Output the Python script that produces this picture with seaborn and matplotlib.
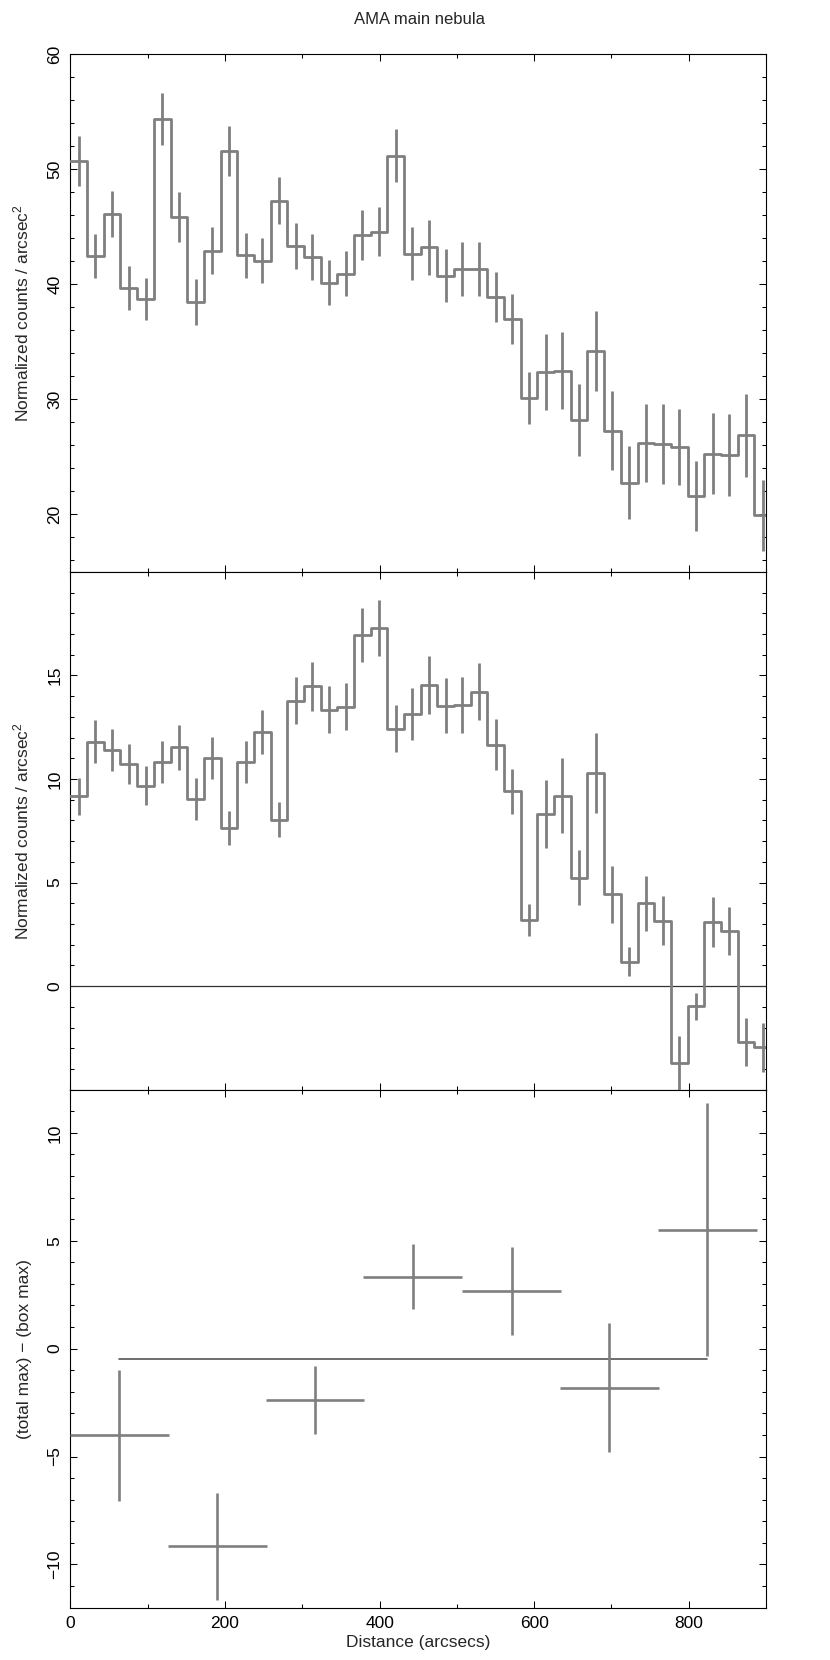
import numpy as np
import matplotlib
matplotlib.use("Agg")
import matplotlib.pyplot as plt
from matplotlib.ticker import MultipleLocator, FixedLocator
import seaborn as sns

# ---------------- data ----------------
BIN_WIDTH = 21.58  # arcsec, width of the fine radial bins

total_counts = [50.68, 42.44, 46.07, 39.65, 38.69, 54.37, 45.83, 38.48, 42.92, 51.58,
                42.50, 42.05, 47.26, 43.31, 42.35, 40.13, 40.91, 44.27, 44.54, 51.16,
                42.65, 43.19, 40.73, 41.33, 41.33, 38.87, 36.96, 30.09, 32.40, 32.49,
                28.20, 34.20, 27.25, 22.75, 26.20, 26.10, 25.81, 21.61, 25.27, 25.15,
                26.86, 19.90]
total_err = [2.15, 1.90, 2.00, 1.90, 1.85, 2.25, 2.17, 2.00, 2.00, 2.20,
             1.95, 1.92, 2.04, 2.04, 2.00, 1.96, 1.98, 2.15, 2.14, 2.30,
             2.30, 2.40, 2.30, 2.35, 2.35, 2.20, 2.14, 2.28, 3.30, 3.34,
             3.10, 3.45, 3.43, 3.15, 3.37, 3.45, 3.30, 3.04, 3.50, 3.52,
             3.60, 3.12]

box_counts = [9.17, 11.80, 11.40, 10.72, 9.68, 10.82, 11.52, 9.02, 11.02, 7.62,
              10.82, 12.28, 8.03, 13.78, 14.48, 13.35, 13.48, 16.95, 17.28, 12.43,
              13.12, 14.53, 13.53, 13.57, 14.22, 11.65, 9.40, 3.20, 8.32, 9.20,
              5.23, 10.28, 4.43, 1.18, 4.00, 3.15, -3.72, -0.98, 3.10, 2.65,
              -2.70, -2.95]
box_err = [0.90, 1.05, 1.02, 0.97, 0.93, 1.00, 1.08, 1.02, 1.00, 0.83,
           1.00, 1.06, 0.84, 1.14, 1.18, 1.12, 1.13, 1.32, 1.35, 1.13,
           1.25, 1.39, 1.33, 1.33, 1.37, 1.23, 1.08, 0.78, 1.65, 1.80,
           1.33, 1.94, 1.37, 0.69, 1.32, 1.18, 1.30, 0.65, 1.20, 1.15,
           1.15, 1.19]

diff_x = [63.4, 190.0, 316.4, 442.9, 571.0, 697.4, 824.2]
diff_xerr = [64.0, 64.0, 64.0, 64.0, 64.0, 64.0, 64.0]
diff_y = [-4.01, -9.16, -2.38, 3.34, 2.65, -1.81, 5.52]
diff_yerr = [3.03, 2.49, 1.59, 1.50, 2.04, 2.98, 5.87]
mean_level = -0.50

# ---------------- style ----------------
sns.set_theme(style="ticks", rc={
    "axes.linewidth": 0.8,
    "axes.edgecolor": "black",
    "xtick.color": "black",
    "ytick.color": "black",
})
plt.rcParams["font.family"] = ["Liberation Sans", "DejaVu Sans"]
plt.rcParams["mathtext.fontset"] = "custom"
plt.rcParams["mathtext.rm"] = "Liberation Sans"
plt.rcParams["mathtext.it"] = "Liberation Sans"
plt.rcParams["axes.unicode_minus"] = True

GRAY = "#7f7f7f"
FS = 12.5

fig = plt.figure(figsize=(8.3, 16.6), dpi=100)
axes = fig.subplots(3, 1, sharex=True, gridspec_kw=dict(hspace=0))
fig.subplots_adjust(left=0.0849, right=0.9229, top=0.9675, bottom=0.0316)

n = len(total_counts)
edges = np.arange(n + 1) * BIN_WIDTH
centers = edges[:-1] + BIN_WIDTH / 2


def step_panel(ax, vals, errs):
    yv = list(vals) + [vals[-1]]
    sns.lineplot(x=edges, y=yv, drawstyle="steps-post", color=GRAY,
                 linewidth=2.0, ax=ax, zorder=3)
    ax.errorbar(centers, vals, yerr=errs, fmt="none", ecolor=GRAY,
                elinewidth=2.0, capsize=0, zorder=3)


ax1, ax2, ax3 = axes
step_panel(ax1, total_counts, total_err)
step_panel(ax2, box_counts, box_err)
ax2.axhline(0, color="#333333", lw=0.9, zorder=2)

ax3.errorbar(diff_x, diff_y, xerr=diff_xerr, yerr=diff_yerr, fmt="none",
             ecolor=GRAY, elinewidth=1.9, capsize=0, zorder=3)
sns.lineplot(x=[diff_x[0], diff_x[-1]], y=[mean_level, mean_level],
             color="#555555", linewidth=1.2, ax=ax3, zorder=2)

ax1.set_ylim(15, 60)
ax1.yaxis.set_major_locator(MultipleLocator(10))
ax1.yaxis.set_minor_locator(MultipleLocator(2))
ax2.set_ylim(-5, 20)
ax2.yaxis.set_major_locator(FixedLocator([0, 5, 10, 15]))
ax2.yaxis.set_minor_locator(MultipleLocator(1))
ax3.set_ylim(-12, 12)
ax3.yaxis.set_major_locator(FixedLocator([-10, -5, 0, 5, 10]))
ax3.yaxis.set_minor_locator(MultipleLocator(1))

ax3.set_xlim(0, 900)
ax3.xaxis.set_major_locator(MultipleLocator(200))
ax3.xaxis.set_minor_locator(MultipleLocator(100))

for ax in axes:
    ax.tick_params(which="both", direction="in", top=True, right=True,
                   bottom=True, left=True, width=0.75, labelsize=FS, pad=6)
    ax.tick_params(which="major", length=5)
    ax.tick_params(which="minor", length=2.7)
    ax.tick_params(axis="y", labelrotation=90)
    for lab in ax.get_yticklabels():
        lab.set_va("center")
    for s in ax.spines.values():
        s.set_visible(True)
        s.set_linewidth(0.8)
        s.set_color("black")
    ax.set_xlabel("")

ylab = "Normalized counts / arcsec$^{2}$"
ax1.set_ylabel(ylab, fontsize=FS)
ax2.set_ylabel(ylab, fontsize=FS)
ax3.set_ylabel("(total max) \u2212 (box max)", fontsize=FS)
for ax in axes:
    ax.yaxis.set_label_coords(-0.056, 0.5)
ax3.set_xlabel("Distance (arcsecs)", fontsize=FS, labelpad=3)

fig.text(420 / 830, 1 - 19.5 / 1660, "AMA main nebula", ha="center",
         va="center", fontsize=12)

fig.savefig("out.png", dpi=100)
